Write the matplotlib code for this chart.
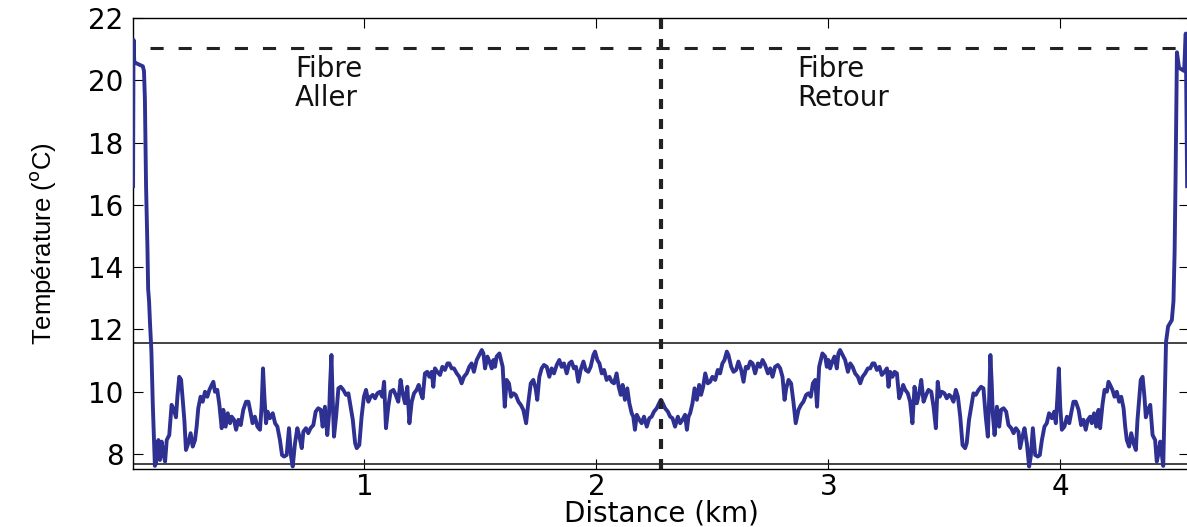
import matplotlib
matplotlib.use("Agg")
import matplotlib.pyplot as plt

# distance (km) / temperature (degC)
dist_aller = [
    0.003, 0.005, 0.008, 0.016, 0.030, 0.045, 0.050, 0.054, 0.059, 0.065,
    0.068, 0.072, 0.076, 0.082, 0.088, 0.097, 0.102,
    0.112, 0.119, 0.126, 0.133, 0.141, 0.148, 0.159, 0.169, 0.179, 0.188,
    0.194, 0.202, 0.210, 0.217, 0.224, 0.231, 0.241, 0.251, 0.260, 0.270,
    0.277, 0.284, 0.294, 0.303, 0.313, 0.323, 0.332, 0.342, 0.349, 0.356,
    0.366, 0.375, 0.385, 0.392, 0.402, 0.411, 0.421, 0.428, 0.438, 0.447,
    0.457, 0.467, 0.478, 0.490, 0.500, 0.510, 0.518, 0.528, 0.539, 0.550,
    0.557, 0.563, 0.569, 0.576, 0.583, 0.593, 0.605, 0.615, 0.625, 0.636,
    0.645, 0.654, 0.665, 0.675, 0.684, 0.691, 0.701, 0.711, 0.720, 0.730,
    0.737, 0.748, 0.758, 0.768, 0.780, 0.790, 0.801, 0.812, 0.820, 0.830,
    0.840, 0.848, 0.852, 0.858, 0.863, 0.869, 0.878, 0.888, 0.898, 0.909,
    0.921, 0.931, 0.938, 0.950, 0.960, 0.967, 0.978, 0.988, 0.998, 1.007,
    1.017, 1.027, 1.036, 1.046, 1.056, 1.067, 1.077, 1.085, 1.093, 1.103,
    1.113, 1.125, 1.135, 1.146, 1.156, 1.165, 1.175, 1.185, 1.194, 1.204,
    1.214, 1.225, 1.234, 1.243, 1.251, 1.261, 1.271, 1.280, 1.290, 1.297,
    1.304, 1.314, 1.326, 1.336, 1.347, 1.358, 1.366, 1.376, 1.386, 1.398,
    1.409, 1.419, 1.429, 1.441, 1.452, 1.462, 1.472, 1.484, 1.495, 1.506,
    1.513, 1.520, 1.530, 1.539, 1.549, 1.556, 1.563, 1.570, 1.582,
    1.596, 1.605, 1.613, 1.623, 1.632, 1.642, 1.652, 1.664, 1.674, 1.685,
    1.697, 1.707, 1.717, 1.728, 1.738, 1.745, 1.754, 1.764, 1.774, 1.786,
    1.797, 1.807, 1.817, 1.829, 1.840, 1.850, 1.860, 1.872, 1.883, 1.893,
    1.903, 1.912, 1.922, 1.932, 1.944, 1.954, 1.965, 1.975, 1.987, 1.994,
    2.004, 2.013, 2.023, 2.033, 2.044, 2.056, 2.066, 2.076, 2.087, 2.096,
    2.105, 2.113, 2.123, 2.133, 2.142, 2.152, 2.159, 2.166, 2.174, 2.185,
    2.195, 2.205, 2.217, 2.228, 2.238, 2.248, 2.260, 2.270, 2.278,
]
temp_aller = [
    16.6, 21.3, 20.6, 20.55, 20.5, 20.45, 20.3, 19.4, 16.6, 14.6,
    13.3, 12.9, 12.2, 11.3, 9.6, 7.62, 7.71,
    8.45, 7.81, 8.40, 8.03, 7.76, 8.45, 8.61, 9.58, 9.42, 9.18,
    9.84, 10.48, 10.38, 9.74, 9.10, 8.13, 8.35, 8.67, 8.24, 8.45,
    8.88, 9.47, 9.84, 9.68, 10.0, 9.84, 10.06, 10.22, 10.32, 10.0,
    10.06, 9.58, 8.83, 9.42, 8.88, 9.31, 8.99, 9.20, 9.10, 8.78,
    9.10, 8.93, 9.42, 9.68, 9.68, 9.31, 8.99, 9.20, 8.88, 8.78,
    9.52, 10.75, 9.84, 8.99, 9.36, 9.15, 9.31, 8.99, 8.88, 8.45,
    7.97, 7.92, 7.97, 8.83, 7.92, 7.60, 8.35, 8.83, 8.56, 8.19,
    8.72, 8.83, 8.67, 8.83, 8.93, 9.36, 9.47, 9.42, 8.88, 9.52,
    8.61, 9.31, 10.22, 11.18, 9.84, 8.56, 9.20, 10.11, 10.16, 10.06,
    9.90, 9.95, 9.63, 9.10, 8.35, 8.19, 8.29, 9.20, 9.84, 10.06,
    9.68, 9.84, 9.90, 9.79, 9.95, 10.0, 9.84, 10.32, 8.83, 9.52,
    10.0, 10.06, 9.90, 9.68, 10.38, 9.95, 9.63, 10.16, 8.99, 9.68,
    9.95, 10.06, 10.22, 9.95, 9.79, 10.59, 10.64, 10.48, 10.64, 10.16,
    10.75, 10.64, 10.54, 10.80, 10.70, 10.91, 10.91, 10.75, 10.75, 10.59,
    10.48, 10.27, 10.48, 10.59, 10.80, 10.91, 10.64, 11.02, 11.18, 11.34,
    11.23, 10.75, 11.13, 10.97, 10.75, 11.02, 10.80, 11.13, 11.23,
    10.80, 9.52, 10.38, 10.27, 9.84, 9.95, 9.90, 9.68, 9.58, 9.42,
    8.99, 9.68, 10.27, 10.38, 10.11, 9.74, 10.48, 10.75, 10.86, 10.80,
    10.48, 10.75, 10.59, 10.86, 11.02, 10.80, 10.91, 10.59, 10.91, 10.97,
    10.75, 10.80, 10.32, 10.70, 10.97, 10.70, 10.64, 10.80, 11.18, 11.29,
    11.02, 10.91, 10.59, 10.70, 10.38, 10.48, 10.32, 10.27, 10.59, 10.16,
    9.90, 10.22, 9.74, 10.11, 9.63, 9.31, 9.20, 8.78, 9.26, 9.10,
    8.99, 9.20, 8.88, 9.15, 9.20, 9.36, 9.47, 9.63, 9.74,
]

dist_retour = [
    2.286, 2.296, 2.308, 2.318, 2.328, 2.339, 2.351, 2.361, 2.371, 2.382,
    2.390, 2.397, 2.404, 2.414, 2.423, 2.433, 2.443, 2.451, 2.460, 2.469,
    2.480, 2.490, 2.500, 2.512, 2.523, 2.533, 2.543, 2.552, 2.562, 2.569,
    2.581, 2.591, 2.602, 2.612, 2.624, 2.634, 2.644, 2.653, 2.663, 2.673,
    2.684, 2.696, 2.706, 2.716, 2.727, 2.739, 2.749, 2.759, 2.770, 2.782,
    2.792, 2.802, 2.811, 2.818, 2.828, 2.839, 2.849, 2.859, 2.871, 2.882,
    2.892, 2.904, 2.914, 2.924, 2.933, 2.943, 2.951, 2.960,
    2.974, 2.986, 2.993, 3.000, 3.007, 3.017, 3.026, 3.036, 3.043, 3.050,
    3.061, 3.072, 3.084, 3.094, 3.104, 3.115, 3.127, 3.137, 3.147, 3.158,
    3.170, 3.180, 3.190, 3.198, 3.209, 3.220, 3.230, 3.242, 3.252, 3.259,
    3.266, 3.276, 3.285, 3.295, 3.305, 3.313, 3.322, 3.331, 3.342, 3.352,
    3.362, 3.371, 3.381, 3.391, 3.400, 3.410, 3.421, 3.431, 3.443, 3.453,
    3.463, 3.471, 3.479, 3.489, 3.500, 3.510, 3.520, 3.529, 3.539, 3.549,
    3.558, 3.568, 3.578, 3.589, 3.596, 3.606, 3.618, 3.625, 3.635, 3.647,
    3.658, 3.668, 3.678, 3.687, 3.693, 3.698, 3.704, 3.708, 3.716, 3.726,
    3.736, 3.744, 3.755, 3.766, 3.776, 3.788, 3.798, 3.808, 3.819, 3.826,
    3.836, 3.845, 3.855, 3.865, 3.872, 3.881, 3.891, 3.902, 3.911, 3.920,
    3.931, 3.941, 3.951, 3.963, 3.973, 3.980, 3.987, 3.993, 3.999, 4.006,
    4.017, 4.028, 4.038, 4.046, 4.056, 4.066, 4.078, 4.089, 4.099, 4.109,
    4.118, 4.128, 4.135, 4.145, 4.154, 4.164, 4.171, 4.181, 4.190, 4.200,
    4.207, 4.214, 4.224, 4.233, 4.243, 4.253, 4.262, 4.272, 4.279, 4.286,
    4.296, 4.305, 4.315, 4.325, 4.332, 4.339, 4.346, 4.354, 4.362, 4.368,
    4.377, 4.387, 4.397, 4.408, 4.415, 4.423, 4.430,
    4.443, 4.455, 4.464, 4.480, 4.487, 4.492, 4.496, 4.502, 4.511, 4.533,
    4.540, 4.546,
]
temp_retour = [
    9.63, 9.47, 9.36, 9.20, 9.15, 8.88, 9.20, 8.99, 9.10, 9.26,
    8.78, 9.20, 9.31, 9.63, 10.11, 9.74, 10.22, 9.90, 10.16, 10.59,
    10.27, 10.32, 10.48, 10.38, 10.70, 10.59, 10.91, 11.02, 11.29, 11.18,
    10.80, 10.64, 10.70, 10.97, 10.70, 10.32, 10.80, 10.75, 10.97, 10.91,
    10.59, 10.91, 10.80, 11.02, 10.86, 10.59, 10.75, 10.48, 10.80, 10.86,
    10.75, 10.48, 9.74, 10.11, 10.38, 10.27, 9.68, 8.99, 9.42, 9.58,
    9.68, 9.90, 9.95, 9.84, 10.27, 10.38, 9.52, 10.80,
    11.23, 11.13, 10.80, 11.02, 10.75, 10.97, 11.13, 10.75, 11.23, 11.34,
    11.18, 11.02, 10.64, 10.91, 10.80, 10.59, 10.48, 10.27, 10.48, 10.59,
    10.75, 10.75, 10.91, 10.91, 10.70, 10.80, 10.54, 10.64, 10.75, 10.16,
    10.64, 10.48, 10.64, 10.59, 9.79, 9.95, 10.22, 10.06, 9.95, 9.68,
    8.99, 10.16, 9.63, 9.95, 10.38, 9.68, 9.90, 10.06, 10.0, 9.52,
    8.83, 10.32, 9.84, 10.0, 9.95, 9.79, 9.90, 9.84, 9.68, 10.06,
    9.84, 9.20, 8.29, 8.19, 8.35, 9.10, 9.63, 9.95, 9.90, 10.06,
    10.16, 10.11, 9.20, 8.56, 9.84, 11.18, 10.22, 9.31, 8.61, 9.52,
    8.88, 9.42, 9.47, 9.36, 8.93, 8.83, 8.67, 8.83, 8.72, 8.19,
    8.56, 8.83, 8.35, 7.60, 7.92, 8.83, 7.97, 7.92, 7.97, 8.45,
    8.88, 8.99, 9.31, 9.15, 9.36, 8.99, 9.84, 10.75, 9.52, 8.78,
    8.88, 9.20, 8.99, 9.31, 9.68, 9.68, 9.42, 8.93, 9.10, 8.78,
    9.10, 9.20, 8.99, 9.31, 8.88, 9.42, 8.83, 9.58, 10.06, 10.0,
    10.32, 10.22, 10.06, 9.84, 10.0, 9.68, 9.84, 9.47, 8.88, 8.45,
    8.24, 8.67, 8.35, 8.13, 9.10, 9.74, 10.38, 10.48, 9.84, 9.18,
    9.42, 9.58, 8.61, 8.45, 7.76, 8.03, 8.40,
    7.62, 11.6, 12.1, 12.3, 12.9, 14.5, 16.8, 20.9, 20.4, 20.3,
    21.5, 16.6,
]

seuil_haut = 11.55
seuil_bas = 7.67
consigne = 21.03
demi_tour = 2.278
x_ticks = [1, 2, 3, 4]
y_ticks = [8, 10, 12, 14, 16, 18, 20, 22]

blue = "#2e3192"

fig = plt.figure(figsize=(11.87, 5.27), dpi=100)
ax = fig.add_axes([133.3 / 1187, 58 / 527, (1189 - 133.3) / 1187, 451 / 527])

ax.plot(dist_aller + dist_retour, temp_aller + temp_retour, color=blue, lw=2.8,
        solid_joinstyle="round", zorder=3)

ax.axhline(seuil_haut, color="#222222", lw=1.2, zorder=2)
ax.axhline(seuil_bas, color="#222222", lw=1.2, zorder=2)
# dashes are scaled by the line width
ax.plot([0.076, 4.516], [consigne, consigne], color="#222222", lw=2.2,
        dashes=(4.3, 4.9), zorder=2)
ax.axvline(demi_tour, color="#222222", lw=3.0, dashes=(2.4, 2.4), zorder=4)

ax.text(0.70, 20.82, "Fibre\nAller", fontsize=20, va="top", ha="left",
        linespacing=1.05, color="#111111")
ax.text(2.864, 20.82, "Fibre\nRetour", fontsize=20, va="top", ha="left",
        linespacing=1.05, color="#111111")

ax.set_xlim(0.004, 4.554)
ax.set_ylim(7.52, 22)
ax.set_xticks(x_ticks)
ax.set_yticks(y_ticks)
ax.tick_params(direction="in", top=True, right=True, length=7, width=0.8,
               labelsize=20)
ax.tick_params(axis="y", pad=7)
ax.tick_params(axis="x", pad=3)
for s in ax.spines.values():
    s.set_linewidth(1.0)

ax.set_xlabel("Distance (km)", fontsize=20, labelpad=-1)
ax.set_ylabel("Température ($^{\\rm o}$C)", fontsize=18.5, labelpad=22,
              family=["Liberation Sans Narrow", "Liberation Sans"])

fig.savefig("out.png", dpi=100)
